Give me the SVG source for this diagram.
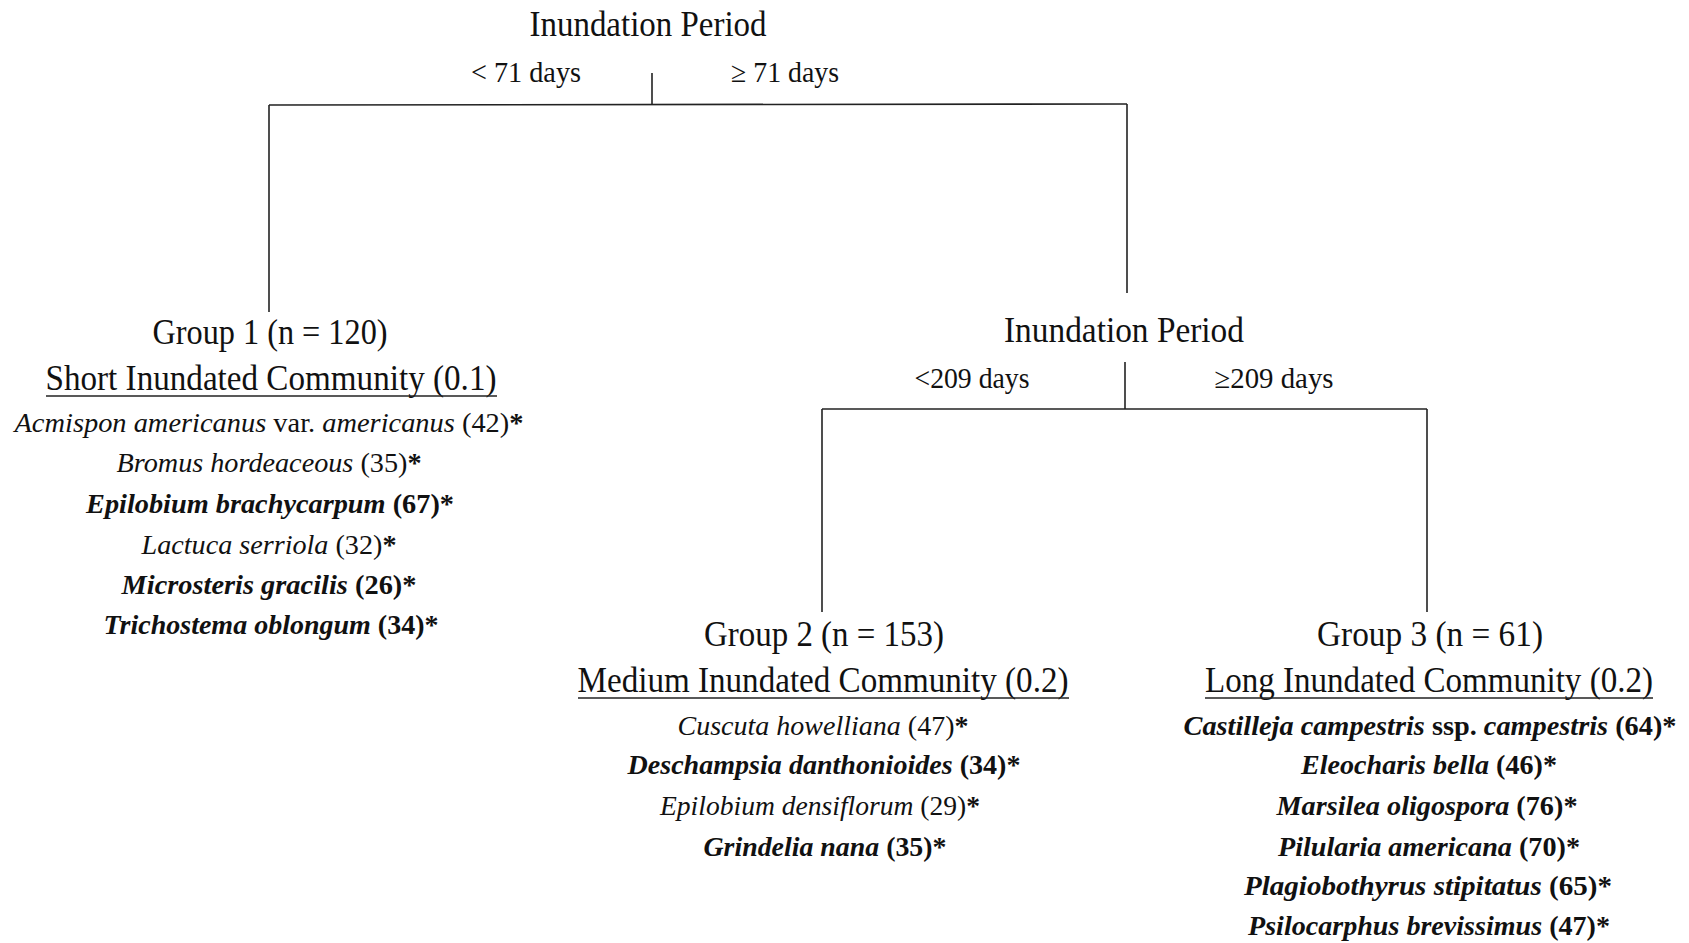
<svg xmlns="http://www.w3.org/2000/svg" width="1689" height="943" viewBox="0 0 1689 943">
<style>
text{font-family:"Liberation Serif","Times New Roman",serif;fill:#111;text-anchor:middle}
.h{font-size:35px}
.l{font-size:29px}
.s{font-size:28px}
.i{font-style:italic}
.b{font-weight:bold}
.c{stroke:#222;stroke-width:1.6;fill:none}
.u{stroke:#222;stroke-width:1.6}
</style>
<rect width="1689" height="943" fill="#fff"/>
<g id="connectors">
<line class="c" x1="652" y1="73" x2="652" y2="105"/>
<line class="c" x1="269" y1="105" x2="1127" y2="104"/>
<line class="c" x1="269" y1="105" x2="269" y2="312"/>
<line class="c" x1="1127" y1="104" x2="1127" y2="293"/>
<line class="c" x1="1125" y1="362" x2="1125" y2="409"/>
<line class="c" x1="822" y1="409" x2="1427" y2="409"/>
<line class="c" x1="822" y1="409" x2="822" y2="612"/>
<line class="c" x1="1427" y1="409" x2="1427" y2="612"/>
</g>
<g id="split1">
<text class="h" x="648" y="36" textLength="237" lengthAdjust="spacingAndGlyphs">Inundation Period</text>
<text class="l" x="526" y="82" textLength="110" lengthAdjust="spacingAndGlyphs">&lt; 71 days</text>
<text class="l" x="785" y="82" textLength="108" lengthAdjust="spacingAndGlyphs">≥ 71 days</text>
</g>
<g id="split2">
<text class="h" x="1124" y="342" textLength="240" lengthAdjust="spacingAndGlyphs">Inundation Period</text>
<text class="l" x="972" y="388" textLength="115" lengthAdjust="spacingAndGlyphs">&lt;209 days</text>
<text class="l" x="1274" y="388" textLength="119" lengthAdjust="spacingAndGlyphs">≥209 days</text>
</g>
<g id="group1">
<text class="h" x="270" y="344" textLength="235" lengthAdjust="spacingAndGlyphs">Group 1 (n = 120)</text>
<text class="h" x="271" y="390" textLength="451" lengthAdjust="spacingAndGlyphs">Short Inundated Community  (0.1)</text>
<line class="u" x1="46" y1="396" x2="497" y2="396"/>
<text class="s" x="269" y="432" textLength="509" lengthAdjust="spacingAndGlyphs"><tspan class="i">Acmispon americanus</tspan> var. <tspan class="i">americanus</tspan> (42)<tspan class="b">*</tspan></text>
<text class="s" x="269" y="472" textLength="305" lengthAdjust="spacingAndGlyphs"><tspan class="i">Bromus hordeaceous</tspan> (35)<tspan class="b">*</tspan></text>
<text class="s b" x="270" y="513" textLength="368" lengthAdjust="spacingAndGlyphs"><tspan class="i">Epilobium brachycarpum</tspan> (67)*</text>
<text class="s" x="269" y="554" textLength="255" lengthAdjust="spacingAndGlyphs"><tspan class="i">Lactuca serriola</tspan> (32)<tspan class="b">*</tspan></text>
<text class="s b" x="269" y="594" textLength="295" lengthAdjust="spacingAndGlyphs"><tspan class="i">Microsteris gracilis</tspan> (26)*</text>
<text class="s b" x="271" y="634" textLength="335" lengthAdjust="spacingAndGlyphs"><tspan class="i">Trichostema oblongum</tspan> (34)*</text>
</g>
<g id="group2">
<text class="h" x="824" y="646" textLength="240" lengthAdjust="spacingAndGlyphs">Group 2 (n = 153)</text>
<text class="h" x="823" y="692" textLength="491" lengthAdjust="spacingAndGlyphs">Medium  Inundated Community  (0.2)</text>
<line class="u" x1="578" y1="698" x2="1069" y2="698"/>
<text class="s" x="823" y="735" textLength="291" lengthAdjust="spacingAndGlyphs"><tspan class="i">Cuscuta howelliana</tspan>  (47)<tspan class="b">*</tspan></text>
<text class="s b" x="824" y="774" textLength="393" lengthAdjust="spacingAndGlyphs"><tspan class="i">Deschampsia danthonioides</tspan> (34)*</text>
<text class="s" x="820" y="815" textLength="320" lengthAdjust="spacingAndGlyphs"><tspan class="i">Epilobium densiflorum</tspan> (29)<tspan class="b">*</tspan></text>
<text class="s b" x="825" y="856" textLength="243" lengthAdjust="spacingAndGlyphs"><tspan class="i">Grindelia nana</tspan> (35)*</text>
</g>
<g id="group3">
<text class="h" x="1430" y="646" textLength="226" lengthAdjust="spacingAndGlyphs">Group 3 (n = 61)</text>
<text class="h" x="1429" y="692" textLength="448" lengthAdjust="spacingAndGlyphs">Long Inundated Community  (0.2)</text>
<line class="u" x1="1205" y1="698" x2="1653" y2="698"/>
<text class="s b" x="1430" y="735" textLength="493" lengthAdjust="spacingAndGlyphs"><tspan class="i">Castilleja campestris</tspan> ssp. <tspan class="i">campestris</tspan> (64)*</text>
<text class="s b" x="1429" y="774" textLength="256" lengthAdjust="spacingAndGlyphs"><tspan class="i">Eleocharis bella</tspan> (46)*</text>
<text class="s b" x="1427" y="815" textLength="301" lengthAdjust="spacingAndGlyphs"><tspan class="i">Marsilea  oligospora</tspan> (76)*</text>
<text class="s b" x="1429" y="856" textLength="302" lengthAdjust="spacingAndGlyphs"><tspan class="i">Pilularia americana</tspan> (70)*</text>
<text class="s b" x="1428" y="895" textLength="368" lengthAdjust="spacingAndGlyphs"><tspan class="i">Plagiobothyrus  stipitatus</tspan> (65)*</text>
<text class="s b" x="1429" y="935" textLength="362" lengthAdjust="spacingAndGlyphs"><tspan class="i">Psilocarphus brevissimus</tspan> (47)*</text>
</g>
</svg>
